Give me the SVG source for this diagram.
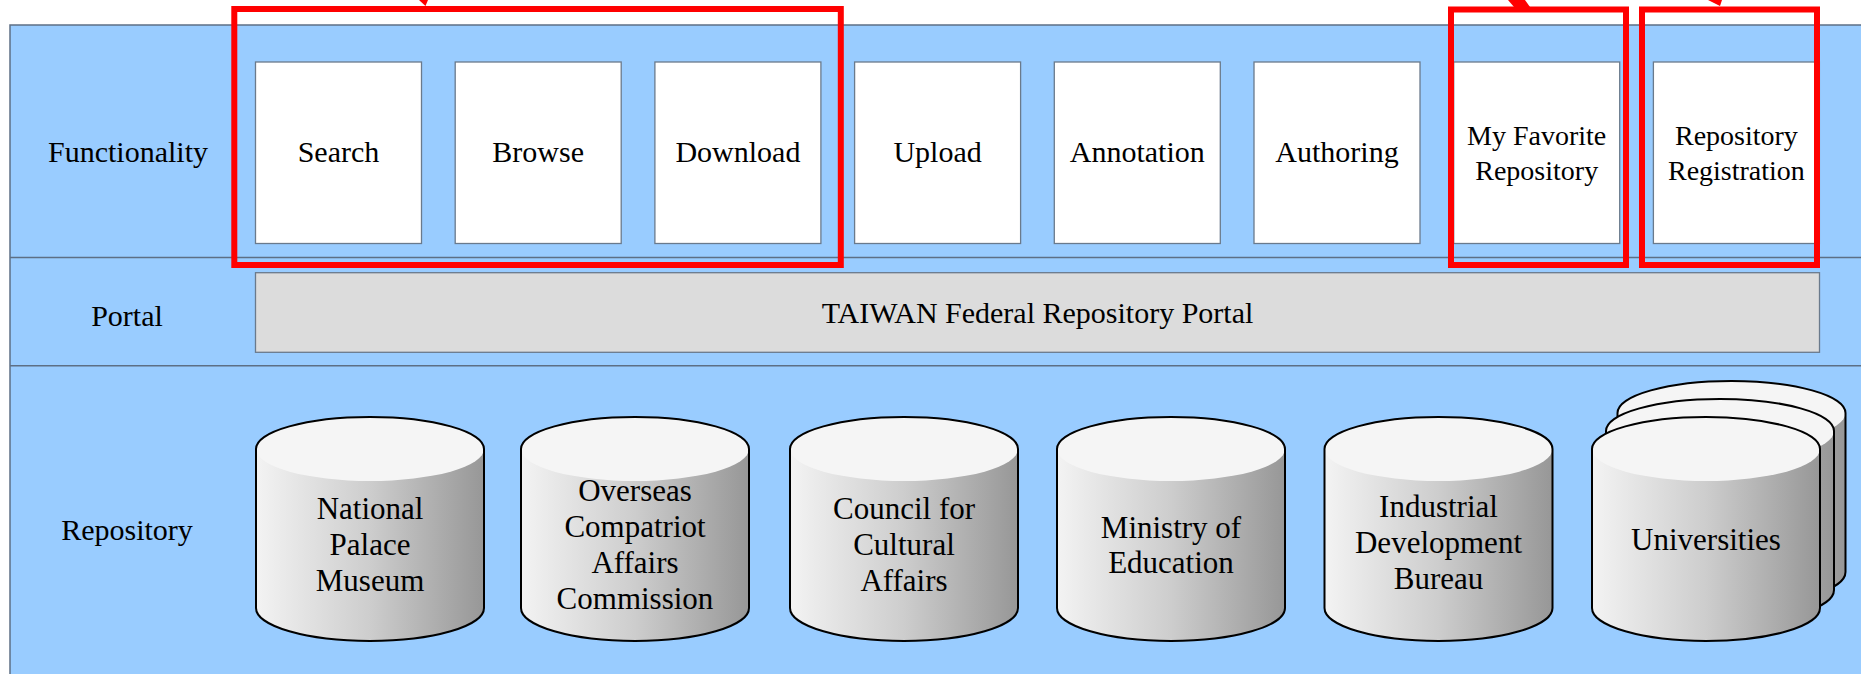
<svg xmlns="http://www.w3.org/2000/svg" width="1861" height="674" viewBox="0 0 1861 674">
<style>
  .lbl { font-family: "Liberation Serif", "Times New Roman", serif; font-size: 30px; fill: #000; text-anchor: middle; }
  .sm { font-size: 28px; }
  .cy { font-size: 31px; }
  .panel { fill: #99ccff; stroke: #5d6f85; stroke-width: 1.5; }
  .sep { stroke: #5d6f85; stroke-width: 1.5; }
  .fbox { fill: #ffffff; stroke: #6a7a8c; stroke-width: 1.3; }
  .portal { fill: #dcdcdc; stroke: #6a7a8c; stroke-width: 1.3; }
  .red { fill: none; stroke: #ff0000; stroke-width: 6; }
  .redfill { fill: #ff0000; }
  .body { fill: url(#side); stroke: none; }
  .top { fill: #f5f5f5; stroke: none; }
  .outline { fill: none; stroke: #000; stroke-width: 2; }
</style>
<defs>
  <linearGradient id="side" x1="0" y1="0" x2="1" y2="0">
    <stop offset="0" stop-color="#f3f3f3"/>
    <stop offset="0.5" stop-color="#cdcdcd"/>
    <stop offset="1" stop-color="#979797"/>
  </linearGradient>
  <g id="cyl">
    <path class="body" d="M -114 0 A 114 32 0 0 1 114 0 L 114 159 A 114 33 0 0 1 -114 159 Z"/>
    <ellipse class="top" cx="0" cy="0" rx="114" ry="32"/>
    <path class="outline" d="M -114 0 A 114 32 0 0 1 114 0 L 114 159 A 114 33 0 0 1 -114 159 Z"/>
  </g>
</defs>

<g id="background">
  <rect class="panel" x="10" y="25" width="1870" height="670"/>
  <line class="sep" x1="10" y1="257.5" x2="1861" y2="257.5"/>
  <line class="sep" x1="10" y1="365.7" x2="1861" y2="365.7"/>
</g>

<g id="row-labels">
  <text class="lbl" x="128" y="162">Functionality</text>
  <text class="lbl" x="127" y="326">Portal</text>
  <text class="lbl" x="127" y="540">Repository</text>
</g>

<g id="search"><rect class="fbox" x="255.5" y="62" width="166" height="181.5"/><text class="lbl" x="338.5" y="162">Search</text></g>
<g id="browse"><rect class="fbox" x="455.2" y="62" width="166" height="181.5"/><text class="lbl" x="538.2" y="162">Browse</text></g>
<g id="download"><rect class="fbox" x="654.9" y="62" width="166" height="181.5"/><text class="lbl" x="737.9" y="162">Download</text></g>
<g id="upload"><rect class="fbox" x="854.6" y="62" width="166" height="181.5"/><text class="lbl" x="937.6" y="162">Upload</text></g>
<g id="annotation"><rect class="fbox" x="1054.3" y="62" width="166" height="181.5"/><text class="lbl" x="1137.3" y="162">Annotation</text></g>
<g id="authoring"><rect class="fbox" x="1254" y="62" width="166" height="181.5"/><text class="lbl" x="1337" y="162">Authoring</text></g>
<g id="my-favorite"><rect class="fbox" x="1453.7" y="62" width="166" height="181.5"/><text class="lbl sm" x="1536.7" y="144.5">My Favorite</text><text class="lbl sm" x="1536.7" y="179.5">Repository</text></g>
<g id="registration"><rect class="fbox" x="1653.4" y="62" width="166" height="181.5"/><text class="lbl sm" x="1736.4" y="144.5">Repository</text><text class="lbl sm" x="1736.4" y="179.5">Registration</text></g>

<g id="portal"><rect class="portal" x="255.5" y="272.7" width="1564" height="79.6"/><text class="lbl" x="1037.5" y="323">TAIWAN Federal Repository Portal</text></g>

<g id="national-palace-museum">
  <use href="#cyl" x="370" y="449"/>
  <text class="lbl cy" x="370" y="519">National</text><text class="lbl cy" x="370" y="555">Palace</text><text class="lbl cy" x="370" y="591">Museum</text>
</g>
<g id="overseas">
  <use href="#cyl" x="635" y="449"/>
  <text class="lbl cy" x="635" y="501">Overseas</text><text class="lbl cy" x="635" y="537">Compatriot</text><text class="lbl cy" x="635" y="573">Affairs</text><text class="lbl cy" x="635" y="609">Commission</text>
</g>
<g id="council">
  <use href="#cyl" x="904" y="449"/>
  <text class="lbl cy" x="904" y="519">Council for</text><text class="lbl cy" x="904" y="555">Cultural</text><text class="lbl cy" x="904" y="591">Affairs</text>
</g>
<g id="ministry">
  <use href="#cyl" x="1171" y="449"/>
  <text class="lbl cy" x="1171" y="537.5">Ministry of</text><text class="lbl cy" x="1171" y="572.5">Education</text>
</g>
<g id="industrial">
  <use href="#cyl" x="1438.5" y="449"/>
  <text class="lbl cy" x="1438.5" y="517">Industrial</text><text class="lbl cy" x="1438.5" y="553">Development</text><text class="lbl cy" x="1438.5" y="589">Bureau</text>
</g>
<g id="universities">
  <use href="#cyl" x="1731.5" y="413"/>
  <use href="#cyl" x="1720" y="431"/>
  <use href="#cyl" x="1706" y="449"/>
  <text class="lbl cy" x="1706" y="550">Universities</text>
</g>

<g id="highlights">
  <rect class="red" x="234.3" y="9" width="606.5" height="256"/>
  <rect class="red" x="1451" y="9.5" width="175" height="255.5"/>
  <rect class="red" x="1642" y="9.5" width="175" height="255.5"/>
</g>

<g id="connectors">
  <polygon class="redfill" points="419,0 428,0 425.5,6"/>
  <polygon class="redfill" points="1508,0 1525,0 1530,7 1514,7"/>
  <polygon class="redfill" points="1708,0 1722,0 1720,6"/>
</g>
</svg>
